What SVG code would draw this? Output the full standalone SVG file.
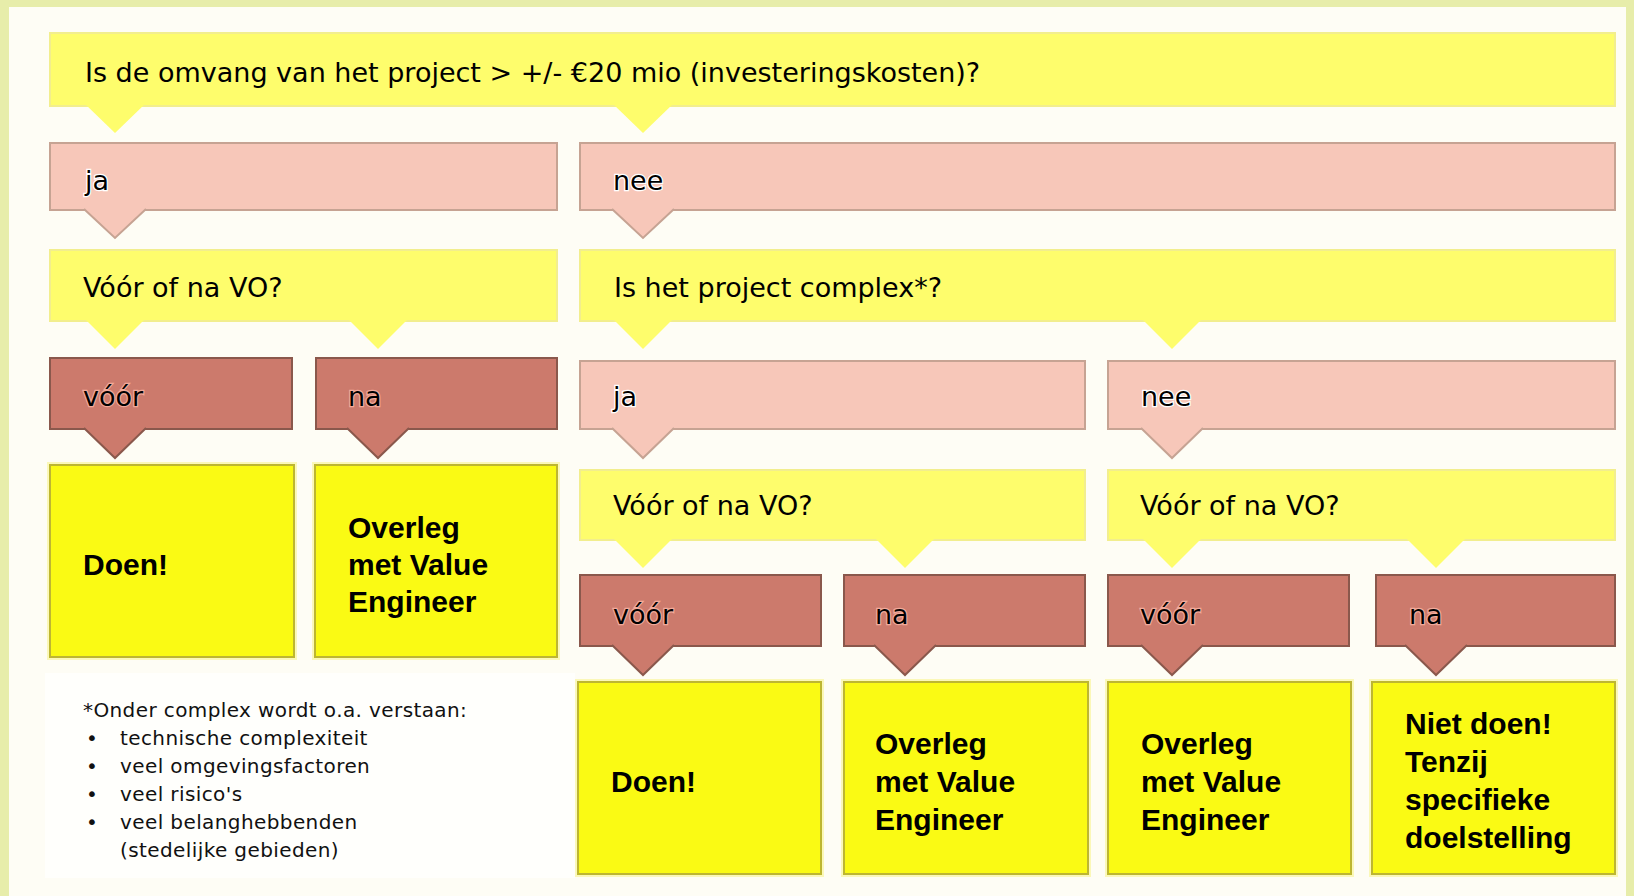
<svg xmlns="http://www.w3.org/2000/svg" width="1634" height="896" viewBox="0 0 1634 896">
<style>
.q{fill:#FEFD6C;stroke:#F2EE8E;stroke-width:2}
.p{fill:#F7C7B9;stroke:#C6A393;stroke-width:2}
.d{fill:#CC7A6C;stroke:#8A584C;stroke-width:2}
.r{fill:#FAFA14;stroke:#BDB632;stroke-width:2}
.glow{fill:none;stroke:#FBF8B8;stroke-width:6}
.pq{fill:#FEFD6C;stroke:none}
.pp{fill:#F7C7B9;stroke:#C6A393;stroke-width:2}
.pd{fill:#CC7A6C;stroke:#8A584C;stroke-width:2}
text{font-family:"DejaVu Sans","Liberation Sans",sans-serif;fill:#000}
.t{font-size:27px}
.tp{font-size:27px;stroke:#FFFFFF;stroke-width:2.5;paint-order:stroke}
.td{font-size:27px;stroke:#F2AA9A;stroke-width:2.5;paint-order:stroke}
.b{font-family:"Liberation Sans",Arial,sans-serif;font-size:30px;font-weight:bold}
.f{font-size:20px;fill:#111;letter-spacing:0.4px}
</style>
<rect x="0" y="0" width="1634" height="896" fill="#E7EDAA"/>
<rect x="9" y="7" width="1617" height="889" fill="#FEFDF5"/>
<rect x="45" y="673" width="530" height="205" fill="#FFFFFC"/>

<g id="q-omvang">
<rect class="q" x="50" y="33" width="1565" height="73"/>
<text class="t" x="85" y="82">Is de omvang van het project &gt; +/- €20 mio (investeringskosten)?</text>
</g>
<g id="a-ja-1">
<rect class="p" x="50" y="143" width="507" height="67"/>
<text class="tp" x="85" y="190">ja</text>
</g>
<g id="a-nee-1">
<rect class="p" x="580" y="143" width="1035" height="67"/>
<text class="tp" x="613" y="190">nee</text>
</g>
<g id="q-vo-1">
<rect class="q" x="50" y="250" width="507" height="71"/>
<text class="t" x="83" y="297">Vóór of na VO?</text>
</g>
<g id="q-complex">
<rect class="q" x="580" y="250" width="1035" height="71"/>
<text class="t" x="614" y="297">Is het project complex*?</text>
</g>
<g id="a-voor-1">
<rect class="d" x="50" y="358" width="242" height="71"/>
<text class="td" x="83" y="406">vóór</text>
</g>
<g id="a-na-1">
<rect class="d" x="316" y="358" width="241" height="71"/>
<text class="td" x="348" y="406">na</text>
</g>
<g id="a-ja-2">
<rect class="p" x="580" y="361" width="505" height="68"/>
<text class="tp" x="613" y="406">ja</text>
</g>
<g id="a-nee-2">
<rect class="p" x="1108" y="361" width="507" height="68"/>
<text class="tp" x="1141" y="406">nee</text>
</g>
<g id="r-doen-1">
<rect class="glow" x="50" y="465" width="244" height="192"/>
<rect class="r" x="50" y="465" width="244" height="192"/>
<text class="b" x="83" y="575">Doen!</text>
</g>
<g id="r-overleg-1">
<rect class="glow" x="315" y="465" width="242" height="192"/>
<rect class="r" x="315" y="465" width="242" height="192"/>
<text class="b" x="348"><tspan x="348" y="538">Overleg</tspan><tspan x="348" y="575">met Value</tspan><tspan x="348" y="612">Engineer</tspan></text>
</g>
<g id="q-vo-2">
<rect class="q" x="580" y="470" width="505" height="70"/>
<text class="t" x="613" y="515">Vóór of na VO?</text>
</g>
<g id="q-vo-3">
<rect class="q" x="1108" y="470" width="507" height="70"/>
<text class="t" x="1140" y="515">Vóór of na VO?</text>
</g>
<g id="a-voor-2">
<rect class="d" x="580" y="575" width="241" height="71"/>
<text class="td" x="613" y="624">vóór</text>
</g>
<g id="a-na-2">
<rect class="d" x="844" y="575" width="241" height="71"/>
<text class="td" x="875" y="624">na</text>
</g>
<g id="a-voor-3">
<rect class="d" x="1108" y="575" width="241" height="71"/>
<text class="td" x="1140" y="624">vóór</text>
</g>
<g id="a-na-3">
<rect class="d" x="1376" y="575" width="239" height="71"/>
<text class="td" x="1409" y="624">na</text>
</g>
<g id="r-doen-2">
<rect class="glow" x="578" y="682" width="243" height="192"/>
<rect class="r" x="578" y="682" width="243" height="192"/>
<text class="b" x="611" y="792">Doen!</text>
</g>
<g id="r-overleg-2">
<rect class="glow" x="844" y="682" width="244" height="192"/>
<rect class="r" x="844" y="682" width="244" height="192"/>
<text class="b"><tspan x="875" y="754">Overleg</tspan><tspan x="875" y="792">met Value</tspan><tspan x="875" y="830">Engineer</tspan></text>
</g>
<g id="r-overleg-3">
<rect class="glow" x="1108" y="682" width="243" height="192"/>
<rect class="r" x="1108" y="682" width="243" height="192"/>
<text class="b"><tspan x="1141" y="754">Overleg</tspan><tspan x="1141" y="792">met Value</tspan><tspan x="1141" y="830">Engineer</tspan></text>
</g>
<g id="r-niet-doen">
<rect class="glow" x="1372" y="682" width="243" height="192"/>
<rect class="r" x="1372" y="682" width="243" height="192"/>
<text class="b"><tspan x="1405" y="734">Niet doen!</tspan><tspan x="1405" y="772">Tenzij</tspan><tspan x="1405" y="810">specifieke</tspan><tspan x="1405" y="848">doelstelling</tspan></text>
</g>
<g id="footnote">
<text class="f"><tspan x="83" y="717">*Onder complex wordt o.a. verstaan:</tspan></text>
<text class="f"><tspan x="86" y="745">•</tspan><tspan x="120" y="745">technische complexiteit</tspan></text>
<text class="f"><tspan x="86" y="773">•</tspan><tspan x="120" y="773">veel omgevingsfactoren</tspan></text>
<text class="f"><tspan x="86" y="801">•</tspan><tspan x="120" y="801">veel risico's</tspan></text>
<text class="f"><tspan x="86" y="829">•</tspan><tspan x="120" y="829">veel belanghebbenden</tspan></text>
<text class="f"><tspan x="120" y="857">(stedelijke gebieden)</tspan></text>
</g>

<g id="connectors">
<path class="pq" d="M85,104 L115,133 L145,104 Z"/>
<path class="pq" d="M613,104 L643,133 L673,104 Z"/>
<path class="pp" d="M84,209 L115,238 L146,209"/>
<path class="pp" d="M612,209 L643,238 L674,209"/>
<path class="pq" d="M85,319 L115,349 L145,319 Z"/>
<path class="pq" d="M348,319 L378,349 L408,319 Z"/>
<path class="pq" d="M613,319 L643,349 L673,319 Z"/>
<path class="pq" d="M1142,319 L1172,349 L1202,319 Z"/>
<path class="pd" d="M84,428 L115,458 L146,428"/>
<path class="pd" d="M347,428 L378,458 L409,428"/>
<path class="pp" d="M612,428 L643,458 L674,428"/>
<path class="pp" d="M1141,428 L1172,458 L1203,428"/>
<path class="pq" d="M613,538 L643,568 L673,538 Z"/>
<path class="pq" d="M875,538 L905,568 L935,538 Z"/>
<path class="pq" d="M1142,538 L1172,568 L1202,538 Z"/>
<path class="pq" d="M1406,538 L1436,568 L1466,538 Z"/>
<path class="pd" d="M612,645 L643,675 L674,645"/>
<path class="pd" d="M874,645 L905,675 L936,645"/>
<path class="pd" d="M1141,645 L1172,675 L1203,645"/>
<path class="pd" d="M1405,645 L1436,675 L1467,645"/>
</g>
</svg>
